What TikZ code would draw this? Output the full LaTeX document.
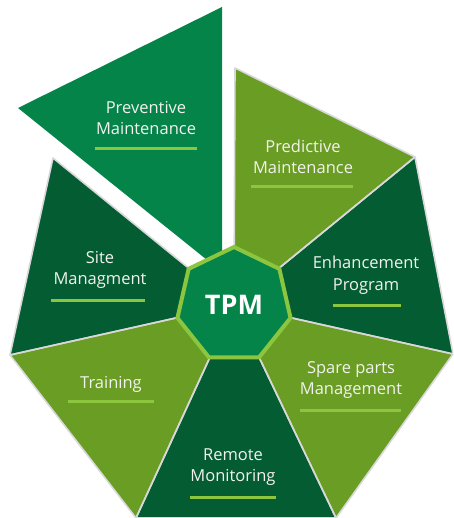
\documentclass[tikz,border=0pt]{standalone}
\usepackage{fontspec}
\setmainfont{Open Sans}
\usetikzlibrary{shapes.geometric}
\definecolor{midgreen}{HTML}{05844A}
\definecolor{darkgreen}{HTML}{045C33}
\definecolor{olive}{HTML}{6A9D23}
\definecolor{lime}{HTML}{8CC63F}
\definecolor{sep}{HTML}{D8D8D8}
\definecolor{txt}{HTML}{F2F2EE}
\tikzset{
  seg/.style={draw=sep, line width=1.6pt, line join=round},
  lbl/.style={text=txt, font=\fontsize{16.5}{21.5}\selectfont, align=center, inner sep=0pt},
  uline/.style={draw=lime, line width=3pt},
}
\begin{document}
\begin{tikzpicture}[x=1pt,y=-1pt]
\useasboundingbox (0,0) rectangle (453,518);
\clip (0,0) rectangle (453,518);
% centre and outer vertices
\coordinate (c) at (234,305);
\coordinate (otop) at (235,68);
\coordinate (oa) at (415,157);
\coordinate (ob) at (453,354);
\coordinate (oc) at (336,518);
\coordinate (od) at (136,518);
\coordinate (oe) at (10,355);
\coordinate (of) at (53,158);
% exploded piece
\coordinate (pa) at (222,7);
\coordinate (pb) at (18,108);
\coordinate (pc) at (222,272);
% segments
\fill[olive]     (c) -- (otop) -- (oa) -- cycle;
\fill[darkgreen] (c) -- (oa) -- (ob) -- cycle;
\fill[olive]     (c) -- (ob) -- (oc) -- cycle;
\fill[darkgreen] (c) -- (oc) -- (od) -- cycle;
\fill[olive]     (c) -- (od) -- (oe) -- cycle;
\fill[darkgreen] (c) -- (oe) -- (of) -- cycle;
\draw[seg] (c) -- (otop) -- (oa) -- cycle;
\draw[seg] (c) -- (oa) -- (ob) -- cycle;
\draw[seg] (c) -- (ob) -- (oc) -- cycle;
\draw[seg] (c) -- (oc) -- (od) -- cycle;
\draw[seg] (c) -- (od) -- (oe) -- cycle;
\draw[seg] (c) -- (oe) -- (of) -- cycle;
\fill[midgreen] (pa) -- (pb) -- (pc) -- cycle;
% centre
\node[regular polygon, regular polygon sides=7, minimum size=116pt, inner sep=0pt,
      fill=midgreen, draw=lime, line width=4pt, text=white,
      font=\bfseries\fontsize{27}{32}\selectfont] (tpm) at (c) {TPM};
% labels
\node[lbl] (prev) at (146,118) {Preventive\\Maintenance};
\node[lbl] (pred) at (303,157) {Predictive\\Maintenance};
\node[lbl] (enh) at (366,275) {Enhancement\\Program};
\node[lbl] (spare) at (351,380) {Spare parts\\Management};
\node[lbl] (rem) at (233,467) {Remote\\Monitoring};
\node[lbl, anchor=base] (trn) at (111,388) {Training};
\node[lbl] (site) at (100,270) {Site\\Managment};
% underlines
\draw[uline] (95,149) coordinate (u1a) -- (197,149) coordinate (u1b);
\draw[uline] (251,187) coordinate (u2a) -- (353,187) coordinate (u2b);
\draw[uline] (333,305) coordinate (u3a) -- (401,305) coordinate (u3b);
\draw[uline] (300,410) coordinate (u4a) -- (401,410) coordinate (u4b);
\draw[uline] (190,497) coordinate (u5a) -- (276,497) coordinate (u5b);
\draw[uline] (68,401) coordinate (u6a) -- (154,401) coordinate (u6b);
\draw[uline] (51,300) coordinate (u7a) -- (145,300) coordinate (u7b);
\end{tikzpicture}
\end{document}
